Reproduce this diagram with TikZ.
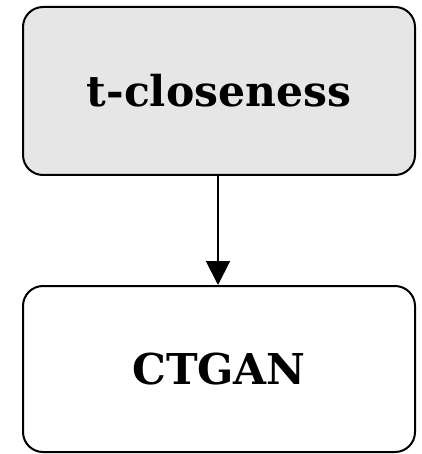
\documentclass[tikz,border=0pt]{standalone}
\usepackage{fontspec}
\setmainfont{DejaVu Serif}
\usetikzlibrary{arrows.meta}
\begin{document}
\begin{tikzpicture}[x=1pt,y=-1pt,
  box/.style={draw=black, line width=2pt, rounded corners=20pt, minimum width=392pt, inner sep=0pt},
  lbl/.style={font=\bfseries\fontsize{42.5}{48}\selectfont}]
\useasboundingbox (0,0) rectangle (421,454);
\node[box, fill={rgb,255:red,230;green,230;blue,230}, minimum height=168pt] (top) at (219,91) {};
\node[box, fill=white, minimum height=166pt] (bot) at (219,369) {};
\node[lbl] (tl) at (top.center) {t-closeness};
\node[lbl] (bl) at (bot.center) {CTGAN};
\draw[line width=2pt, -{Triangle[length=24pt,width=24pt]}] (top.south -| 218,0) -- (bot.north -| 218,0);
\end{tikzpicture}
\end{document}
